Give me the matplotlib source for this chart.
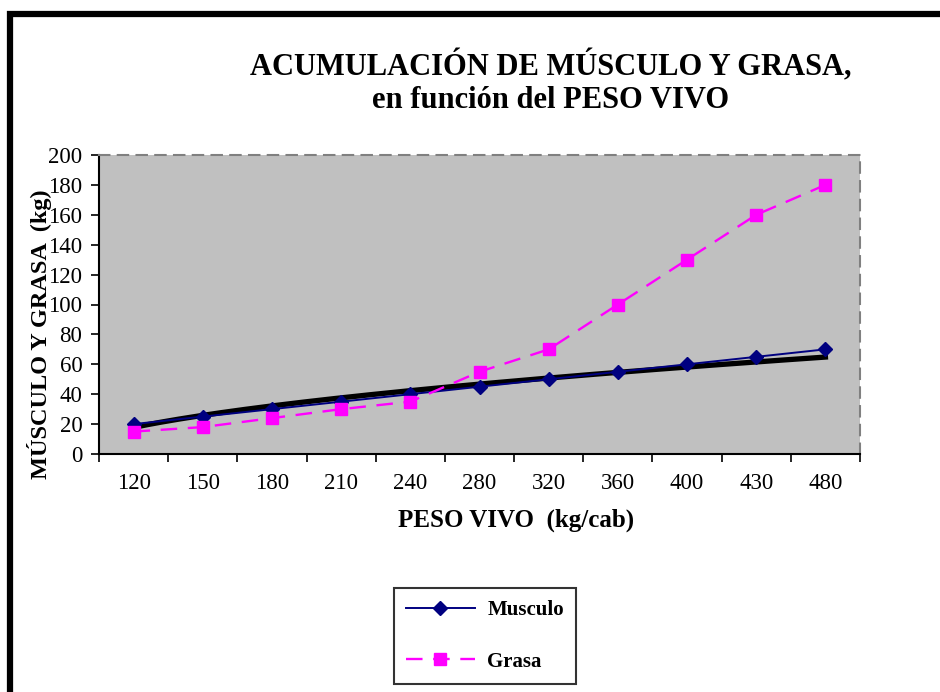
"""Acumulación de músculo y grasa en función del peso vivo."""
import matplotlib

matplotlib.use("Agg")
import matplotlib.pyplot as plt
import numpy as np
from matplotlib.patches import Rectangle

peso_vivo = ["120", "150", "180", "210", "240", "280", "320", "360", "400", "430", "480"]
musculo = [20, 25, 30, 35, 40, 45, 50, 55, 60, 65, 70]
grasa = [15, 18, 24, 30, 35, 55, 70, 100, 130, 160, 180]

plt.rcParams["font.family"] = ["Liberation Serif", "DejaVu Serif"]

fig = plt.figure(figsize=(9.4, 6.92), dpi=100)
ax = fig.add_axes([99 / 940, 1 - 454 / 692, 761 / 940, 299 / 692])

x = np.arange(1, len(peso_vivo) + 1)

# power trendline on Musculo (log-log fit), like the spreadsheet "potencial" trend
b, loga = np.polyfit(np.log(x), np.log(musculo), 1)
xt = np.linspace(1, len(x), 200)
ax.plot(xt, np.exp(loga) * xt ** b, color="black", lw=3.8, zorder=2)

ax.plot(x, musculo, color="#000080", lw=1.4, marker="D", ms=7,
        markerfacecolor="#000080", markeredgecolor="#000080", label="Musculo", zorder=3)
ax.plot(x, grasa, color="#FF00FF", lw=1.7, ls=(0, (7, 4.5)), marker="s", ms=9,
        markerfacecolor="#FF00FF", markeredgecolor="#FF00FF", label="Grasa", zorder=3)

ax.set_facecolor("#C0C0C0")
ax.set_xlim(0.5, len(x) + 0.5)
ax.set_ylim(0, 200)
ax.set_yticks(range(0, 201, 20))
ax.tick_params(axis="y", direction="out", length=6, width=1.2, labelsize=16.5, pad=6)
ax.set_xticks(x)
ax.set_xticklabels(peso_vivo)
ax.set_xticks(np.arange(0.5, len(x) + 1), minor=True)
ax.tick_params(axis="x", which="major", length=0, labelsize=16.5, pad=14)
ax.tick_params(axis="x", which="minor", direction="out", length=6, width=1.2)

for side in ("left", "bottom"):
    ax.spines[side].set_color("black")
    ax.spines[side].set_linewidth(1.5)
for side in ("top", "right"):
    ax.spines[side].set_color("#808080")
    ax.spines[side].set_linewidth(1.5)
    ax.spines[side].set_linestyle((0, (5, 4)))

ax.set_xlabel("PESO VIVO  (kg/cab)", fontsize=18, fontweight="bold")
ax.xaxis.set_label_coords((516 - 99) / 761, -(520 - 454) / 299)
ax.set_ylabel("MÚSCULO Y GRASA  (kg)", fontsize=17.5, fontweight="bold")
ax.yaxis.set_label_coords(-(99 - 40) / 761, (454 - 334) / 299)
ax.yaxis.label.set_va("center")
ax.xaxis.label.set_va("center")

fig.text(551 / 940, 1 - 66 / 692, "ACUMULACIÓN DE MÚSCULO Y GRASA,",
         ha="center", va="center", fontsize=22, fontweight="bold")
fig.text(551 / 940, 1 - 101 / 692, "en función del PESO VIVO",
         ha="center", va="center", fontsize=22, fontweight="bold")

leg = fig.legend(loc="center", bbox_to_anchor=(485 / 940, 1 - 636 / 692),
                 frameon=True, fancybox=False, edgecolor="black",
                 prop={"weight": "bold", "size": 15}, handlelength=3.3,
                 labelspacing=1.5, borderpad=0.6, handletextpad=0.6,
                 borderaxespad=0)
leg.get_frame().set_linewidth(1.5)

# outer frame of the chart object
fig.patches.append(Rectangle((10 / 940, -0.05), 1.0, 1 - 14 / 692 + 0.05,
                             transform=fig.transFigure, fill=False,
                             edgecolor="black", lw=4.5))

fig.savefig("out.png", dpi=100)
